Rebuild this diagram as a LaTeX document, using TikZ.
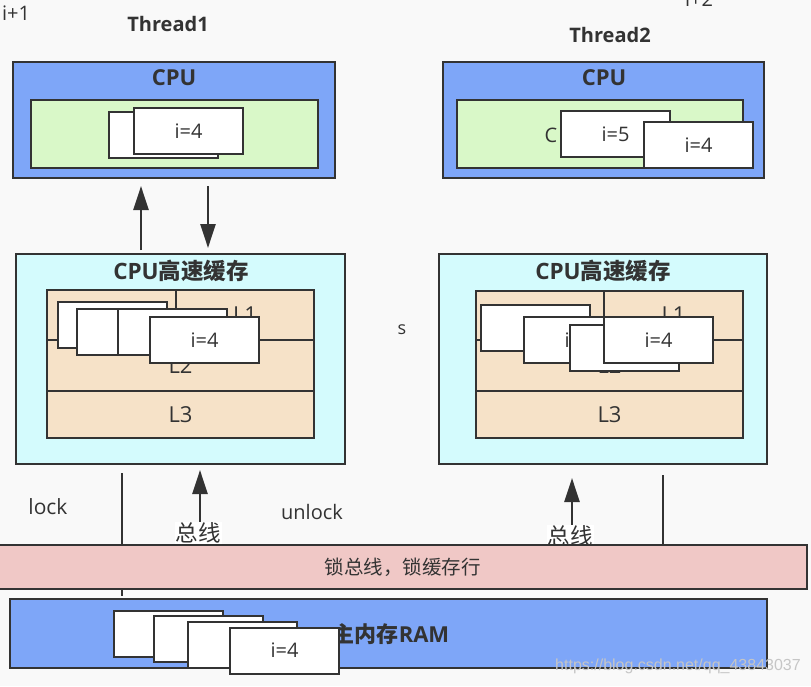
\documentclass[tikz,border=0pt]{standalone}
\usepackage{fontspec}
\setmainfont{Open Sans}
\newfontfamily\cjk{Noto Sans CJK SC}
\newfontfamily\wmfont{Liberation Sans}
\usepackage{xcolor}
\usetikzlibrary{positioning,calc,arrows.meta}
\definecolor{bgray}{HTML}{F9F9F9}
\definecolor{cpublue}{HTML}{7EA6F8}
\definecolor{regreen}{HTML}{D9F8C8}
\definecolor{cachecyan}{HTML}{D4FBFD}
\definecolor{cachetan}{HTML}{F6E2C8}
\definecolor{buspink}{HTML}{F0C8C6}
\definecolor{edge}{HTML}{333333}
\newcommand{\fsz}[1]{\fontsize{#1}{#1}\selectfont}

\begin{document}
\begin{tikzpicture}[x=1pt,y=-1pt,
    box/.style={draw=edge, line width=2pt, inner sep=0pt},
    val/.style={box, fill=white, minimum width=109pt, minimum height=46pt, font=\fsz{20}, text=edge},
    flow/.style={draw=edge, line width=2.5pt, -{Triangle[length=24pt,width=15pt]}},
    wire/.style={draw=edge, line width=2pt},
    title/.style={font=\fsz{20}\bfseries, text=edge},
    txt/.style={font=\fsz{20}, text=edge}]
    % Background
    \fill[bgray] (0,0) rectangle (811,686);
    \useasboundingbox (0,0) rectangle (811,686);

    % Thread labels
    \node[txt] (inc1) at (16,13) {i+1};
    \node[title] (t1) at (168,24) {Thread1};
    \node[txt] (inc2) at (699,-1) {i+2};
    \node[title] (t2) at (610,35) {Thread2};

    % Thread1 CPU
    \node[box, fill=cpublue, minimum width=322pt, minimum height=116pt] (cpu1) at (174,120) {};
    \node[title, font=\fsz{22}\bfseries] (cpu1t) at (174,78) {CPU};
    \node[box, fill=regreen, minimum width=287pt, minimum height=68pt] (reg1) at (174.5,134) {};
    \node[val] (r1a) at (163.5,134.5) {};
    \node[val] (r1b) at (188.5,131) {i=4};

    % Thread2 CPU
    \node[box, fill=cpublue, minimum width=321pt, minimum height=116pt] (cpu2) at (603.5,120) {};
    \node[title, font=\fsz{22}\bfseries] (cpu2t) at (604,78) {CPU};
    \node[box, fill=regreen, minimum width=286pt, minimum height=68pt] (reg2) at (600,134) {};
    \node[txt] (reg2t) at (551,135) {C};
    \node[val] (r2a) at (615.5,134) {i=5};
    \node[val] (r2b) at (698.5,145) {i=4};

    % CPU <-> cache
    \coordinate (up1) at (141,250);
    \coordinate (up1tip) at (141,186);
    \coordinate (dn1) at (208,186);
    \coordinate (dn1tip) at (208,248);
    \draw[flow] (up1) -- (up1tip);
    \draw[flow] (dn1) -- (dn1tip);

    % Thread1 cache
    \node[box, fill=cachecyan, minimum width=329pt, minimum height=210pt] (cache1) at (180.5,359) {};
    \node[title, font=\fsz{22.5}\bfseries] (cache1t) at (181,271) {CPU{\cjk 高速缓存}};
    \node[box, fill=cachetan, minimum width=267pt, minimum height=148pt] (tan1) at (180.5,364) {};
    \draw[wire] (176,290) -- (176,340);
    \draw[wire] (47,340) -- (314,340);
    \draw[wire] (47,391) -- (314,391);
    \node[txt, font=\fsz{22}] (l1a) at (245,315) {L1};
    \node[txt, font=\fsz{22}] (l2a) at (180.5,366) {L2};
    \node[txt, font=\fsz{22}] (l3a) at (180.5,415) {L3};
    \node[val] (b1) at (112.5,324.5) {};
    \node[val] (b2) at (131.5,332) {};
    \node[val] (b3) at (172.5,332) {};
    \node[val] (b4) at (204.5,340) {i=4};

    % Thread2 cache
    \node[box, fill=cachecyan, minimum width=328pt, minimum height=210pt] (cache2) at (603,359) {};
    \node[title, font=\fsz{22.5}\bfseries] (cache2t) at (603,271) {CPU{\cjk 高速缓存}};
    \node[box, fill=cachetan, minimum width=267pt, minimum height=147pt] (tan2) at (609.5,364.5) {};
    \draw[wire] (604,291) -- (604,340);
    \draw[wire] (476,340) -- (743,340);
    \draw[wire] (476,391) -- (743,391);
    \node[txt, font=\fsz{22}] (l1b) at (673.5,315) {L1};
    \node[txt, font=\fsz{22}] (l2b) at (609.5,366) {L2};
    \node[txt, font=\fsz{22}] (l3b) at (609.5,415) {L3};
    \node[val] (c1) at (535.5,327.5) {i=4};
    \node[val] (c2) at (578.5,340) {i=4};
    \node[val] (c3) at (624.5,347.5) {};
    \node[val] (c4) at (658.5,340) {i=4};

    \node[txt, font=\fsz{18}] (s) at (402,330) {s};

    % Bus
    \node[txt, font=\fsz{21}] (lock) at (48,507) {lock};
    \node[txt] (unlock) at (312,512) {unlock};
    \coordinate (lk1) at (122,473);
    \coordinate (lk2) at (122,596);
    \draw[wire] (lk1) -- (lk2);
    \coordinate (bus1) at (200,545);
    \coordinate (bus1tip) at (200,470);
    \draw[flow] (bus1) -- (bus1tip);
    \node[txt, fill=white, inner sep=1pt, font=\fsz{22.5}\cjk] (bus1t) at (198,533) {总线};
    \coordinate (bus2) at (572,545);
    \coordinate (bus2tip) at (572,478);
    \draw[flow] (bus2) -- (bus2tip);
    \node[txt, fill=white, inner sep=1pt, font=\fsz{22.5}\cjk] (bus2t) at (570,536) {总线};
    \coordinate (ul1) at (663,475);
    \coordinate (ul2) at (663,545);
    \draw[wire] (ul1) -- (ul2);
    \node[box, fill=buspink, minimum width=809pt, minimum height=44pt, font=\fsz{19.5}\cjk, text=edge] (bus) at (402.5,567) {锁总线，锁缓存行};

    % Main memory
    \node[box, fill=cpublue, minimum width=757pt, minimum height=69pt] (ram) at (388.5,633.5) {};
    \node[title, font=\fsz{22}\bfseries] (ramt) at (391,634) {{\cjk 主内存}RAM};
    \node[val] (m1) at (168.5,634) {};
    \node[val] (m2) at (208,638.5) {};
    \node[val] (m3) at (242,644.5) {};
    \node[val] (m4) at (284.5,650.5) {i=4};

    \node[font=\fsz{16}\wmfont, text=gray!45] (mark) at (678,666) {https://blog.csdn.net/qq\_43843037};
\end{tikzpicture}
\end{document}
